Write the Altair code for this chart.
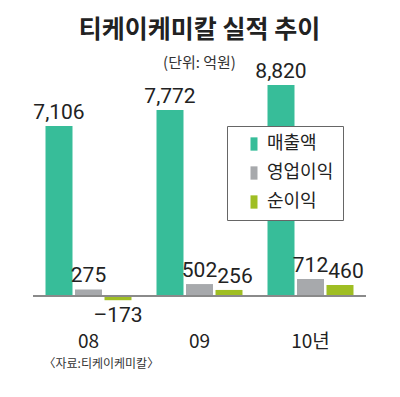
import altair as alt
import pandas as pd

years = ["08", "09", "10년"]
series = ["매출액", "영업이익", "순이익"]
sales = [7106, 7772, 8820]
op_income = [275, 502, 712]
net_income = [-173, 256, 460]
colors = ["#37bd99", "#a7a9ac", "#9fbe23"]

rows = []
for s, vals in zip(series, [sales, op_income, net_income]):
    for yr, v in zip(years, vals):
        rows.append({"year": yr, "series": s, "value": v, "zero": 0,
                     "label": f"{v:,}".replace("-", "\u2013")})
df = pd.DataFrame(rows)

KR = "Noto Sans CJK KR"
NUM = "Liberation Sans Narrow, Roboto, sans-serif"

x = alt.X("year:N",
          scale=alt.Scale(domain=years, paddingInner=0, paddingOuter=0),
          axis=alt.Axis(title="〈자료:티케이케미칼〉", domain=False, ticks=False,
                        labelAngle=0, labelFont=KR, labelFontSize=19,
                        labelColor="#222", labelPadding=27,
                        labelBaseline="alphabetic",
                        titleFont=KR, titleFontSize=12, titleFontWeight="normal",
                        titleColor="#333", titleAlign="left", titleAnchor="start",
                        titleX=10, titleY=47, titleBaseline="alphabetic"))
xo = alt.XOffset("series:N",
                 scale=alt.Scale(domain=series, paddingInner=0.085, paddingOuter=0.424))
yscale = alt.Scale(domain=[-1000, 9030], nice=False, zero=False)
y = alt.Y("value:Q", scale=yscale, axis=None)

base = alt.Chart(df)

bars = base.mark_bar().encode(
    x=x, xOffset=xo, y=y, y2="zero:Q",
    color=alt.Color("series:N",
                    scale=alt.Scale(domain=series, range=colors),
                    legend=alt.Legend(title=None, orient="none", legendX=194, legendY=46,
                                      fillColor="white", strokeColor="#666",
                                      padding=9, symbolType="M-1,-1.9H1V1.9H-1Z",
                                      symbolSize=49, symbolStrokeWidth=0,
                                      symbolOffset=9, labelOffset=4,
                                      labelFontSize=18, labelFont=KR,
                                      labelColor="#222", rowPadding=11)),
)

rule = base.mark_rule(color="#8a8a8a", strokeWidth=1.5).encode(
    y=alt.Y("zero:Q", scale=yscale, axis=None))

txt_kw = dict(font=NUM, fontSize=21, color="#222", baseline="alphabetic")
lab_pos = base.transform_filter("datum.value >= 0 && datum.series != '순이익'").mark_text(
    dy=-7, **txt_kw).encode(x=x, xOffset=xo, y=y, text="label:N")
lab_net = base.transform_filter("datum.value >= 0 && datum.series == '순이익'").mark_text(
    dy=-7, dx=6, **txt_kw).encode(x=x, xOffset=xo, y=y, text="label:N")
lab_neg = base.transform_filter("datum.value < 0").mark_text(
    dy=22, **txt_kw).encode(x=x, xOffset=xo, y=y, text="label:N")

chart = alt.layer(bars, rule, lab_pos, lab_net, lab_neg).properties(
    width=333, height=240, background="white",
    title=alt.TitleParams("티케이케미칼 실적 추이", subtitle="(단위: 억원)",
                          font=KR, fontSize=25, fontWeight="bold", color="#222",
                          subtitleFont=KR, subtitleFontSize=15, subtitleColor="#333",
                          subtitlePadding=13, anchor="middle", offset=-10, frame="group"),
    autosize=alt.AutoSizeParams(type="none"),
    padding={"left": 25, "top": 72, "right": 20, "bottom": 60},
).configure_view(stroke=None)

chart.save("out.html", embed_options={"renderer": "svg", "actions": False})
